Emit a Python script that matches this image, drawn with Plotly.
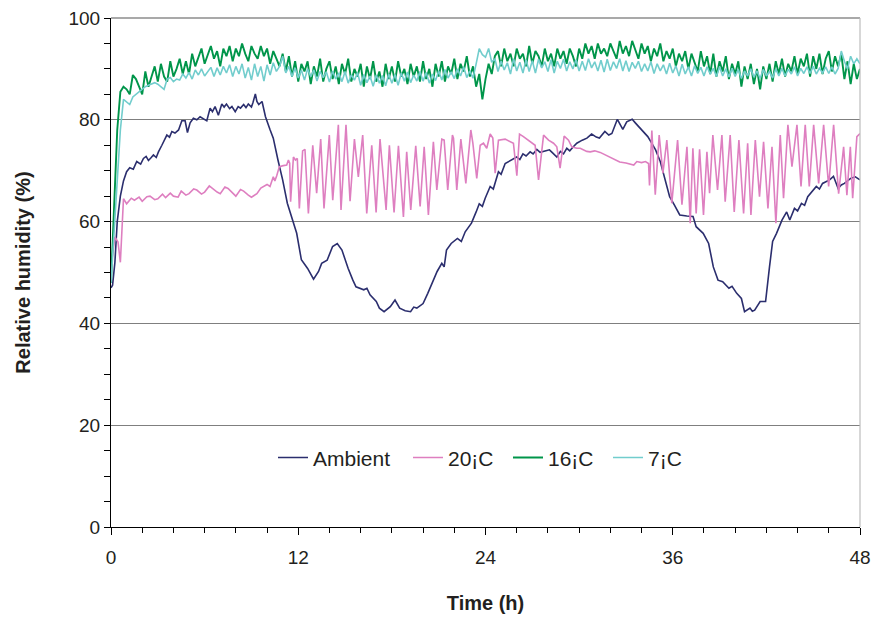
import plotly.graph_objects as go

# ---------------- data ----------------
amb_t = [0, 0.1, 0.25, 0.4, 0.6, 0.8, 1.0, 1.2, 1.43, 1.65, 1.9, 2.08, 2.25, 2.4, 2.55, 2.72, 2.9, 3.04, 3.26,
         3.58, 3.75, 3.9, 4.1, 4.33, 4.54, 4.75, 4.9, 5.07, 5.28, 5.5, 5.71, 5.95, 6.14, 6.35, 6.5, 6.67, 6.88,
         7.1, 7.25, 7.4, 7.6, 7.75, 7.96, 8.15, 8.3, 8.5, 8.65, 8.8, 9.0, 9.1, 9.25, 9.35,
         9.47, 9.68, 9.9, 10.2, 10.4, 10.7, 11.0, 11.3, 11.6, 11.9, 12.2, 12.6, 12.98, 13.3, 13.5, 13.85,
         14.2, 14.5, 14.8, 15.0, 15.2, 15.5, 15.7, 16.2, 16.4, 16.6, 17.0, 17.2, 17.5, 17.9, 18.2, 18.5, 18.85,
         19.2, 19.4, 19.6, 20.0, 20.3, 20.6, 20.9, 21.2, 21.35, 21.5, 21.8, 22.2, 22.45, 22.7, 23.1, 23.4, 23.6,
         23.8, 23.98, 24.3, 24.5, 24.83, 25.0, 25.26, 25.69, 26.0, 26.2, 26.4, 26.6, 26.86, 27.05, 27.29, 27.5,
         27.7, 28.1, 28.3, 28.57, 28.8, 29.0, 29.21, 29.4, 29.6, 29.85, 30.2,
         30.5, 30.8, 31.1, 31.3, 31.65, 31.9, 32.1, 32.45, 32.8, 33.05, 33.4, 33.6, 33.8, 34.1, 34.4, 34.65,
         34.9, 35.2, 35.5, 35.8, 36.1, 36.45, 36.9, 37.3, 37.5, 37.95, 38.3, 38.6, 38.9, 39.2, 39.6, 39.8,
         40.1, 40.4, 40.6, 40.95, 41.1, 41.25, 41.6, 41.95, 42.2, 42.4, 42.65, 43.0, 43.3, 43.5, 43.8, 44.0,
         44.25, 44.45, 44.65, 45.2, 45.4, 45.6, 46.05, 46.3, 46.6, 46.8, 47.0, 47.4, 47.7, 48.0]
amb_v = [47, 47.5, 52, 60, 65, 68, 69.8, 70.6, 70.3, 71.8, 71.3, 72.4, 72.8, 72, 72.5, 73.1, 72.6, 73.7, 75,
         77, 76.6, 77.7, 77.4, 78, 79.8, 79.8, 77.5, 79.4, 80.3, 80.0, 80.6, 80.2, 79.8, 82.3, 81.6, 82.6, 80.9,
         83.1, 82.5, 83.1, 82.2, 82.6, 81.6, 82.6, 82.3, 83, 82.4, 83.1, 82.5, 83.4, 85.1, 83.6,
         83, 83.6, 80.6, 78, 76.4, 72.1, 68.2, 63.6, 60.6, 57.7, 52.5, 50.8, 48.7, 50.2, 51.8, 52.4,
         55.1, 55.7, 54.4, 52.5, 50.8, 48.5, 47.2, 46.6, 46.9, 45.6, 44.3, 43, 42.3, 43.3, 44.6, 43, 42.5,
         42.3, 43.2, 43, 43.9, 45.9, 47.9, 50.2, 51.8, 51.1, 54.4, 55.7, 56.7, 56.1, 58, 59.7, 61.9, 63.5,
         63.0, 64.6, 66.9, 66.4, 69.8, 69.3, 71.4, 72.1, 72.7, 72.2, 73.3, 72.9, 73.7, 73.3, 74.2, 73.6,
         73.8, 74.1, 73.5, 72.7, 73.8, 73.3, 74.4, 73.9, 74.6, 75.4, 76,
         76.4, 77.2, 76.6, 76.4, 77.7, 77.0, 77.3, 80.1, 78.1, 79.6, 80.1, 79.4, 78.7, 77.7, 76.7, 75.4,
         74.1, 71.8, 68.2, 64.9, 63.3, 61.3, 61.1, 61, 59, 57.7, 55.7, 51.1, 48.5, 48.2, 46.9, 47.3,
         45.9, 44.9, 42.3, 43, 42.4, 42.6, 44.3, 44.3, 51.1, 56.1, 57.7, 60.3, 61.9, 60.3, 62.6, 62.1,
         63.6, 63.2, 64.9, 66.9, 66.4, 67.5, 68.2, 68.9, 66.5, 67.2, 67.5, 68.5, 68.8, 68.2]

c20_t = [0, 0.25, 0.45, 0.6, 0.8, 1.0, 1.3, 1.5, 1.8, 2.0, 2.3, 2.5, 2.8, 3.0, 3.3, 3.5, 3.8, 4.0, 4.3, 4.5,
         4.8, 5.0, 5.3, 5.5, 5.8, 6.0, 6.3, 6.5, 6.8, 7.0, 7.3, 7.5, 7.8, 8.0, 8.3,
         8.5, 8.8, 9.0, 9.35, 9.6, 10.0, 10.19, 10.4, 10.5, 10.62, 10.79, 11.04, 11.26, 11.37, 11.45, 11.51,
         11.69, 11.82, 11.94, 12.07, 12.28, 12.43, 12.65, 12.93, 13.18, 13.44, 13.65, 13.99, 14.21, 14.57,
         14.74, 15.06, 15.32, 15.6, 15.85, 16.13, 16.39, 16.71, 16.99, 17.24, 17.63, 17.84, 18.14, 18.42,
         18.74, 18.95, 19.21, 19.53, 19.81, 20.07, 20.34, 20.66, 20.88, 21.2, 21.35, 21.58, 21.88, 21.95,
         22.16, 22.42, 22.74, 23.06, 23.19, 23.44, 23.66, 23.87, 24.08, 24.3, 24.47, 24.62, 24.83, 25.26,
         25.58, 25.79, 26.01, 26.18, 26.43, 26.86, 27.18, 27.4, 27.72, 28.04, 28.36, 28.57, 28.78, 29.04,
         29.32, 29.53, 29.85, 30.07, 30.49, 30.71, 31.0, 31.35, 31.7, 32.0, 32.3, 32.6, 33.0, 33.4, 33.5,
         33.7, 34.0, 34.25, 34.45, 34.51, 34.66, 34.88, 35.13, 35.37, 35.62, 35.94, 36.31, 36.59, 36.91,
         37.12, 37.29, 37.5, 37.72, 37.97, 38.19, 38.36, 38.57, 38.87, 39.15, 39.36, 39.68, 39.94, 40.24,
         40.54, 40.8, 41.01, 41.29, 41.56, 41.82, 42.1, 42.36, 42.61, 42.89, 43.1, 43.38, 43.64, 43.96,
         44.22, 44.49, 44.75, 45.03, 45.35, 45.67, 45.99, 46.31, 46.63, 46.95, 47.16, 47.38, 47.53, 47.8, 48.0]
c20_v = [51, 57, 56, 52, 64.5, 63.5, 64.6, 64.2, 64.8, 64, 64.9, 65, 64.3, 64.5, 65.4, 64.7, 65.6, 65, 64.8, 66,
         65.2, 65.5, 66.4, 66.2, 65.4, 65.8, 67, 66.5, 65.8, 65.5, 66.8, 66.5, 65.6, 65, 66.3,
         66, 65.2, 64.8, 65.5, 66.6, 67.3, 66.9, 68.8, 68, 69, 70.8, 71, 71.1, 72.1, 71.5, 63.9,
         72.7, 72.1, 72.4, 62.6, 73.9, 74.2, 61.6, 75, 65.6, 76.2, 62.6, 77, 64.2, 79,
         62.3, 79, 64, 76.2, 68.8, 77, 61.6, 75, 61.8, 76.2, 62.3, 75, 61.8, 74.9,
         60.9, 73.7, 62.3, 74.9, 63, 74.7, 61.3, 75.7, 66.2, 76.2, 76, 66.2, 77, 76.4,
         66.2, 76.2, 67.5, 78, 75.4, 68.5, 75, 75.4, 74.4, 77.2, 76.4, 69.5, 76, 76.2,
         75.7, 75.4, 69, 77.2, 76.7, 75.7, 75, 68.2, 77, 76, 75.4, 74.7, 70.5, 76.8,
         76, 74.7, 74.4, 74.4, 73.8, 73.7, 73.9, 73.6, 73.1, 72.6, 72.1, 71.7, 71.5, 71.2, 71.1,
         71.8, 71.6, 71.8, 71.4, 67.1, 77.9, 65.3, 77, 69.5, 76, 63.6, 76, 63.3, 74.7,
         59.7, 74.4, 61.6, 74.2, 61.3, 73.7, 65.6, 77, 66.2, 77, 63.9, 77, 61.9, 76,
         61.6, 75.4, 61.3, 76, 64.9, 75.7, 62.6, 74.7, 59.7, 77, 64.6, 79, 70.8, 79,
         66.9, 79, 66.9, 79, 67.5, 79, 66.9, 79, 65.5, 74.7, 65.2, 74.7, 64.6, 76.7, 77.3]

# 16 C and 7 C sampled every 0.2 h from 0 to 48 h
step_t = [round(i * 0.2, 1) for i in range(241)]
c16_v = [48, 62, 78, 85.5, 86.5,
         86, 85, 88.8, 88, 86.5,
         85, 89.5, 86.5, 88.5, 90.5,
         87.5, 91, 88.5, 87.5, 91.5,
         88.5, 90, 92, 89, 91.5,
         89, 93, 90.5, 92.5, 94,
         91, 93, 94.5, 92, 93.5,
         90.5, 94, 92.5, 94.5, 91.5,
         94, 92.5, 95, 93, 91.5,
         94.5, 93, 92, 94.5, 92.5,
         94, 91, 93.5, 92, 90.5,
         93, 89.5, 92.5, 88.5, 91.5,
         87.5, 91, 89.5, 91.5, 87,
         90.5, 88.5, 92, 87.5, 90,
         91.5, 88, 90.5, 87, 91,
         89, 92, 87.5, 90, 88.5,
         91, 86.5, 90.5, 88, 91.5,
         87.5, 89.5, 86.5, 91, 88,
         90.5, 87.5, 91.5, 88.5, 90,
         87, 91, 88.5, 90.5, 87.5,
         91.5, 88, 90, 86.5, 91,
         88.5, 91.5, 87.5, 90.5, 89,
         92, 88, 91, 89.5, 92.5,
         88.5, 90.5, 86.5, 89, 84,
         88, 91, 89, 92.5, 93.5,
         90.5, 94, 91.5, 93, 90.5,
         94, 92, 93, 90.5, 94.5,
         91, 93.5, 92.5, 90.5, 94,
         91.5, 93, 90.5, 94, 92,
         93.5, 91, 94, 92.5, 90.5,
         94, 92, 95, 93, 94.5,
         92, 95, 93, 94, 92.5,
         95, 93.5, 92, 95.5, 93,
         94.5, 92.5, 95.5, 93.5, 92,
         95, 93, 94.5, 91.5, 94,
         92.5, 95, 91.5, 93.5, 92,
         94, 90.5, 93, 91.5, 93.5,
         90, 93, 91, 89.5, 93.5,
         90.5, 92.5, 89, 93, 88.5,
         91.5, 89.5, 92.5, 88, 91,
         89, 91.5, 86.5, 90.5, 88,
         91, 87, 90, 86, 90.5,
         88, 91, 87.5, 91.5, 89,
         92, 88.5, 91, 89.5, 92.5,
         89, 92, 90.5, 93, 88.5,
         92.5, 90, 93, 89, 92,
         93.5, 89.5, 92.5, 90.5, 93,
         88, 91.5, 87, 91, 88,
         90]
c7_v = [48, 58, 70, 78, 84,
        83.5, 83, 84.5, 85, 85.5,
        86, 86.5, 86.8, 87, 87.3,
        87, 86.5, 86, 88, 88.3,
        87.5, 88, 87.8, 89, 88.2,
        89.3, 88, 89.8, 88.8, 90,
        88.6, 89.5, 90.3, 88.5, 90.2,
        88.8, 90.5, 89.2, 90.8, 88.5,
        90.5, 89, 91, 88.2, 90.3,
        87.8, 91, 88.5, 90.5, 87.6,
        90.8, 88.8, 91.2, 89.5, 90.5,
        92.5, 89.2, 90.5, 88.5, 90.2,
        88.2, 89.8, 87.8, 90, 88.5,
        89.8, 87.6, 89.5, 88.3, 89.4,
        87.4, 89.6, 88, 89.2, 87.5,
        89.5, 87.2, 88.8, 87.8, 89.3,
        86.8, 88.9, 87.3, 88.6, 86.6,
        88.8, 87.2, 88.7, 86.7, 89,
        87.2, 88.9, 86.8, 89.2, 87.6,
        89.4, 87.3, 88.8, 87.6, 89.5,
        87.6, 89.3, 87.2, 89, 87.7,
        89.6, 87.8, 89.9, 88.2, 89.4,
        88.1, 90, 88.6, 90.4, 88.3,
        89.6, 88.2, 91, 94, 92.8,
        92.3, 94, 91.3, 92, 89.5,
        91.5, 89.8, 91.2, 89, 92,
        89.6, 91.3, 89.2, 91.8, 89.5,
        91.6, 89.2, 91.9, 90.2, 91.4,
        89.5, 91.8, 89.2, 91.5, 90.1,
        91.9, 89.6, 91.4, 90, 91.8,
        89.6, 91.5, 89.7, 92, 90.2,
        91.4, 89.6, 91.7, 89.4, 91.9,
        89.7, 91.4, 90.1, 92, 89.6,
        91.6, 89.5, 91.3, 90.1, 91.5,
        89.5, 91, 89.6, 91.4, 89.1,
        91, 89.6, 90.8, 89, 91.1,
        89.2, 90.6, 88.6, 90.9, 89,
        90.4, 88.6, 90.6, 89.1, 90.3,
        88.6, 90.4, 89, 90.1, 88.5,
        90.4, 88.6, 90, 88.4, 90.1,
        88.5, 89.9, 88.1, 89.6, 88.6,
        90, 88.4, 89.6, 88.1, 89.9,
        88.6, 89.5, 88.2, 90, 88.6,
        90.1, 88.6, 89.9, 89, 90.4,
        88.6, 90.1, 89.1, 90.4, 89.1,
        90.5, 89, 90.1, 89.2, 90.4,
        89.1, 90.4, 89, 90.1, 93.5,
        91.5, 90, 92.5, 91, 92,
        91]

names = ["Ambient", "20¡C", "16¡C", "7¡C"]
colors = ["#2B2E6E", "#DE7FC0", "#00954A", "#72CDCD"]
x_ticks = [0, 12, 24, 36, 48]
y_ticks = [0, 20, 40, 60, 80, 100]

# ---------------- figure ----------------
fig = go.Figure()
series = [(amb_t, amb_v, 1.6), (c20_t, c20_v, 1.6), (step_t, c16_v, 1.9), (step_t, c7_v, 1.6)]
entry_widths = [90, 55, 55, 45]
for (t, v, w), n, c, ew in zip(series, names, colors, entry_widths):
    fig.add_trace(go.Scatter(x=t, y=v, mode="lines", name=n, line=dict(color=c, width=w),
                             legendwidth=ew))

font_family = "Liberation Sans, Arial, sans-serif"
fig.update_layout(
    width=875, height=619,
    margin=dict(l=111, r=15, t=18, b=92),
    paper_bgcolor="white", plot_bgcolor="white",
    font=dict(family=font_family, size=19, color="#231F20"),
    showlegend=True,
    legend=dict(orientation="h", x=0.5, xanchor="center", y=0.136, yanchor="middle",
                bgcolor="rgba(0,0,0,0)", font=dict(size=21), itemwidth=30, traceorder="normal"),
    xaxis=dict(range=[0, 48], tickvals=x_ticks, ticks="outside", ticklen=7, tickcolor="black",
               showline=True, linecolor="black", linewidth=1.2, showgrid=False, zeroline=False,
               automargin=False, ticklabelstandoff=6,
               minor=dict(dtick=2, tick0=0, ticks="outside", ticklen=5, tickcolor="black", showgrid=False),
               title=dict(text="<b>Time (h)</b>", standoff=29, font=dict(size=20))),
    yaxis=dict(range=[0, 100], tickvals=y_ticks, ticks="outside", ticklen=6, tickcolor="black",
               showline=True, linecolor="black", linewidth=1.2, showgrid=True, gridcolor="#7F7F7F",
               gridwidth=1.3, zeroline=False, automargin=False,
               minor=dict(dtick=5, tick0=0, ticks="outside", ticklen=6, tickcolor="black", showgrid=False),
               title=dict(text="<b>Relative humidity (%)</b>", standoff=32, font=dict(size=20))),
)
# frame at top and right
fig.add_shape(type="line", xref="paper", yref="paper", x0=0, x1=1, y0=1, y1=1,
              line=dict(color="#8C8C8C", width=1.5))
fig.add_shape(type="line", xref="paper", yref="paper", x0=1, x1=1, y0=0, y1=1,
              line=dict(color="#BDBDBD", width=1.2))

fig.write_html("out.html")
